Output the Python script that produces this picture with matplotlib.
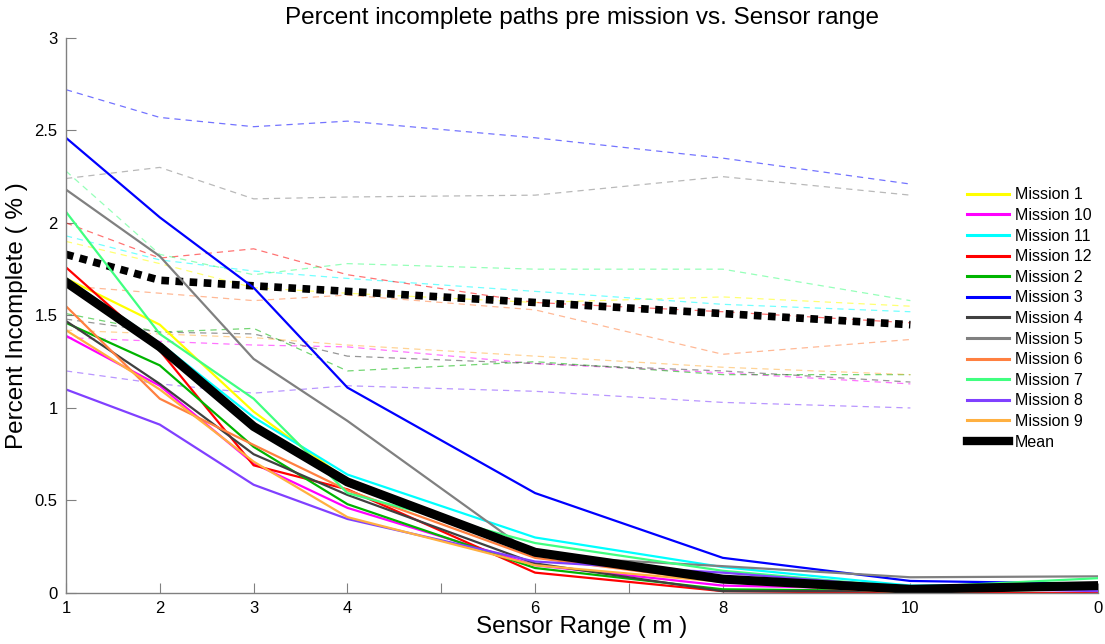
#! /usr/bin/env python3

import matplotlib
matplotlib.use('Agg')
import matplotlib.pyplot as plt

# Sensor ranges (x positions) for both series kinds
rangesFull = [1, 2, 3, 4, 6, 8, 10, 12]
rangesDashed = [1, 2, 3, 4, 6, 8, 10]

xTicks = [1, 2, 3, 4, 5, 6, 7, 8, 9, 10, 11, 12]
xTickLabels = ["1", "2", "3", "4", "", "6", "", "8", "", "10", "", "0"]
yTicks = [0, 0.5, 1, 1.5, 2, 2.5, 3]
yTickLabels = ["0", "0.5", "1", "1.5", "2", "2.5", "3"]

missionNames = ["Mission 1", "Mission 10", "Mission 11", "Mission 12", "Mission 2", "Mission 3",
                "Mission 4", "Mission 5", "Mission 6", "Mission 7", "Mission 8", "Mission 9"]

# Solid lines: percent incomplete per sensor range
solid1 = [1.70, 1.45, 0.98, 0.61, 0.23, 0.08, 0.02, 0.04]
solid10 = [1.39, 1.12, 0.70, 0.46, 0.15, 0.04, 0.02, 0.03]
solid11 = [1.70, 1.35, 0.95, 0.64, 0.30, 0.14, 0.04, 0.05]
solid12 = [1.76, 1.31, 0.69, 0.56, 0.11, 0.01, 0.00, 0.00]
solid2 = [1.46, 1.23, 0.79, 0.48, 0.135, 0.02, 0.01, 0.02]
solid3 = [2.46, 2.03, 1.65, 1.11, 0.54, 0.19, 0.065, 0.05]
solid4 = [1.47, 1.13, 0.75, 0.53, 0.16, 0.01, 0.01, 0.03]
solid5 = [2.18, 1.82, 1.265, 0.93, 0.20, 0.145, 0.085, 0.09]
solid6 = [1.55, 1.05, 0.80, 0.555, 0.19, 0.06, 0.00, 0.03]
solid7 = [2.06, 1.40, 1.05, 0.54, 0.27, 0.12, 0.03, 0.08]
solid8 = [1.10, 0.91, 0.585, 0.40, 0.17, 0.11, 0.03, 0.01]
solid9 = [1.42, 1.10, 0.71, 0.41, 0.15, 0.06, 0.01, 0.03]
solidMean = [1.68, 1.33, 0.90, 0.60, 0.22, 0.075, 0.02, 0.04]

# Dashed lines
dashed1 = [1.90, 1.78, 1.65, 1.62, 1.57, 1.60, 1.55]
dashed10 = [1.38, 1.36, 1.34, 1.33, 1.24, 1.19, 1.13]
dashed11 = [1.93, 1.80, 1.74, 1.70, 1.63, 1.56, 1.52]
dashed12 = [2.00, 1.81, 1.86, 1.72, 1.57, 1.52, 1.46]
dashed2 = [1.51, 1.41, 1.43, 1.20, 1.25, 1.18, 1.18]
dashed3 = [2.72, 2.57, 2.52, 2.55, 2.46, 2.35, 2.21]
dashed4 = [1.48, 1.41, 1.40, 1.28, 1.24, 1.20, 1.14]
dashed5 = [2.24, 2.30, 2.13, 2.14, 2.15, 2.25, 2.15]
dashed6 = [1.66, 1.62, 1.58, 1.61, 1.53, 1.29, 1.37]
dashed7 = [2.28, 1.83, 1.72, 1.78, 1.75, 1.75, 1.58]
dashed8 = [1.20, 1.13, 1.08, 1.12, 1.09, 1.03, 1.00]
dashed9 = [1.42, 1.40, 1.38, 1.34, 1.28, 1.22, 1.18]
dashedMean = [1.83, 1.69, 1.66, 1.63, 1.57, 1.51, 1.45]

missionColors = ["#ffff00", "#ff00ff", "#00ffff", "#ff0000", "#00b400", "#0000ff",
                 "#404040", "#808080", "#ff8040", "#40ff80", "#8040ff", "#ffb040"]


def main():
    plt.rcParams['font.family'] = ['Liberation Sans', 'DejaVu Sans']

    solids = [solid1, solid10, solid11, solid12, solid2, solid3, solid4, solid5, solid6, solid7, solid8, solid9]
    dasheds = [dashed1, dashed10, dashed11, dashed12, dashed2, dashed3, dashed4, dashed5, dashed6, dashed7,
               dashed8, dashed9]

    fig = plt.figure(figsize=(11.05, 6.44), dpi=100)
    ax = fig.add_axes([0.0597, 0.0792, 0.934, 0.862])

    # Dashed (faint) lines first
    for values, color in zip(dasheds, missionColors):
        ax.plot(rangesDashed, values, color=color, linewidth=0.9, alpha=0.55, dashes=(5, 4))
    ax.plot(rangesDashed, dashedMean, color='black', linewidth=5.5, dashes=(1, 0.85), solid_capstyle='butt',
            dash_capstyle='butt')

    # Solid lines
    for values, color, name in zip(solids, missionColors, missionNames):
        ax.plot(rangesFull, values, color=color, linewidth=1.6, label=name)
    ax.plot(rangesFull, solidMean, color='black', linewidth=6.5, label="Mean")

    ax.set_xlim(1, 12)
    ax.set_ylim(0, 3)
    ax.set_xticks(xTicks)
    ax.set_xticklabels(xTickLabels)
    ax.set_yticks(yTicks)
    ax.set_yticklabels(yTickLabels)
    ax.tick_params(direction='in', length=7, width=0.8, color='#808080', labelsize=12, pad=6)

    for side in ['top', 'right']:
        ax.spines[side].set_visible(False)
    for side in ['left', 'bottom']:
        ax.spines[side].set_color('#808080')
        ax.spines[side].set_linewidth(1.0)

    ax.set_title("Percent incomplete paths pre mission vs. Sensor range", fontsize=17.5, pad=10)
    ax.set_xlabel("Sensor Range ( m )", fontsize=17.5, labelpad=0)
    ax.set_ylabel("Percent Incomplete ( % )", fontsize=17.5, labelpad=5)

    leg = ax.legend(loc='upper left', bbox_to_anchor=(0.867, 0.742), frameon=False, fontsize=11.5,
                    handlelength=2.6, labelspacing=0.35, handletextpad=0.4, borderaxespad=0)
    for line in leg.get_lines():
        line.set_linewidth(2.2)
    leg.get_lines()[-1].set_linewidth(6)

    fig.savefig('out.png', dpi=100)


# Bootstrap
if __name__ == "__main__":
    main()
